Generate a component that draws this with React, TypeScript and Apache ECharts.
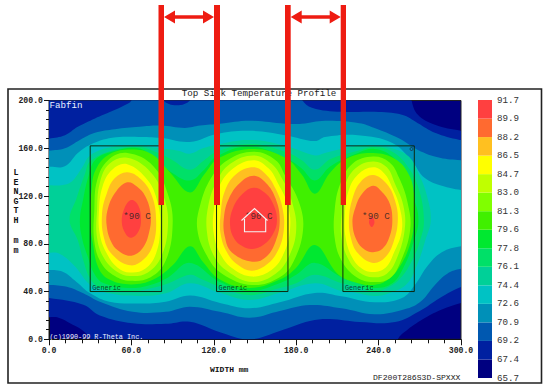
import React, { useEffect, useRef } from "react";
import * as echarts from "echarts";

type P = [number, number];

const titleText = "Top Sink Temperature Profile";
const scaleLabels = ["65.7","67.4","69.2","70.9","72.6","74.4","76.1","77.8","79.6","81.3","83.0","84.7","86.5","88.2","89.9","91.7"];
const bandColors = ["#000080","#0020a0","#0058b0","#0090b8","#00c2c4","#00d098","#00e068","#00e830","#40f000","#80ff00","#c0ff00","#ffff00","#ffc020","#ff6a30","#ff4040"];

const sourceLefts = [30, 122, 214];
const sourceWidth = 52;
const sourceBottom = 40;
const sourceTop = 162;
const sourceLabelX = [54, 142.7, 228];
const sourceLabelY = 102.5;

const level2: P[] = [[-10,18],[0,18.5],[7,18],[16,13],[25,7],[30,0],[33,-10],[253,-10],[254,0],[261,8],[274,18],[286,25],[300,30.5],[312,33],[312,173],[300,174.6],[281,179.6],[268.6,188],[264,200],[263,212],[-10,212]];
const level3: P[] = [[-10,35],[0,34.6],[25,29],[37,20],[61,13.5],[85,13],[102.6,14.7],[124.5,6],[146,0],[168,7],[190,15.3],[204.6,17],[226,14.5],[252,14.5],[270,23.7],[284.6,34.6],[300,43.8],[312,47],[312,165],[299,167],[281,173],[268.6,181],[257,188],[237,190.5],[213,190.5],[191.5,194],[184,201],[182,212],[104,212],[103,200.5],[93,196],[83,200.5],[82,212],[62,212],[60,200],[55,196],[45.6,191],[33.5,185],[21,178],[11.6,171],[0,168],[-10,165]];
const level4: P[] = [[-10,46],[0,45.5],[13,44],[25,38.5],[37,31.5],[61,23],[85,23],[102.6,27.3],[124.5,23],[146,18],[168,23.7],[190,28.7],[213,26],[237,21],[257,24.5],[270,31],[281,45.5],[290,55],[300,59],[312,60],[312,149],[300,150],[284.6,152],[268.6,158.6],[254,168.7],[237,177],[226,181],[201,183],[184,180.5],[172,180.5],[146,183],[124.5,180.5],[110,179],[99,177],[81,179],[66,178],[48,176],[33.5,173],[22.5,167],[11.6,160],[0,158],[-10,157]];
const level5: P[] = [[-10,58],[0,58],[10,56.5],[20,48],[30,38.5],[44,31.5],[66,30],[85,31.5],[103,36.6],[124.5,30.4],[146,26],[168,31],[193.6,38.8],[213,36],[237,31],[257,34.6],[266.4,45.5],[276,62],[286,73],[300,78],[312,79],[312,124],[300,125],[286,128.5],[273.7,135],[264,149.4],[250,164.5],[225,171],[201,169.5],[193.6,166],[172,171],[146,174.6],[122,172],[102.6,165.3],[81,168.7],[65,169.5],[46,168.7],[30,163],[21,156],[11.6,145],[0,144.4],[-10,144]];
const level6: P[] = [[-10,72.6],[0,72.6],[8,71.5],[19,60.9],[30,45.5],[44,38.5],[66,36.3],[85,38.5],[102.6,47],[124.5,39],[146,33],[168,39],[193.6,47],[213,40.5],[220.6,39.6],[237,36.3],[250,39.6],[261,47],[268.6,64],[274,83],[278,100],[275,121],[269,139],[262,153],[249.6,160],[237,162],[225,162],[201,156],[193.6,154],[172,162],[146,167],[122,163],[112,160],[102.6,155.5],[94,158],[79.6,160],[65,162],[45.6,161],[30,154],[23.7,143],[16.4,132],[9,129],[0,129],[-10,129]];
const level7: P[] = [[15,100],[20,118],[26,138],[30,149],[45.6,158],[65,161],[79.6,156],[90,150],[102.6,142],[113,150],[122,157],[146,163.6],[172,157],[184,150],[193.6,142],[205,151],[225,158],[237,161],[250,157],[261,145],[269,127],[273,100],[270,82],[263,63],[255,50],[246,43],[237,39.6],[225,44],[213,47],[193.6,54],[180,47],[168,43],[146,37],[124.5,44],[110,51],[102.6,54],[87,47],[75,43],[60,40.5],[38,43],[30,51],[25,66],[21,83]];
const level8: P[] = [[22.5,100],[25,118],[28.6,136],[33.5,150],[45.6,157],[65,160],[77,151.6],[89,140],[102.6,133],[113,142],[122,153],[146,161.4],[172,152],[184,143],[193.6,133],[205,145],[225,156],[237,159.4],[250,153],[258,140],[265,120],[269,100],[265,80],[258,60],[250,47],[237,43],[225,47],[213,52],[193.6,64],[180,54],[168,47],[146,40.5],[124.5,48],[102.6,64],[87,52],[75,46],[60,43],[40,47],[33,55],[28,70],[24,85]];
const level9: P[] = [[30,100],[31,125],[34,142],[44,155],[60,159],[75,155],[88,140],[102.6,123],[113,138],[124,152],[149,159.4],[172,152],[184,138],[193.6,122],[205,140],[218,152],[236,156],[252,151],[262,138],[266,120],[266,100],[263,80],[256,62],[247,50],[236,45.5],[222,48],[210,55],[193.6,79],[180,60],[168,50],[146,43],[124.5,50],[112,65],[102.6,78],[90,62],[76,50],[60,46],[44,50],[36,60],[32,80]];
const level10a: P[] = [[57,156],[43,150],[35,133],[33,108],[33,82],[38,64],[48,53],[59,49],[74,52],[85,66],[90,95],[87,120],[76,145]];
const level10b: P[] = [[149,157],[130,150],[118,135],[110,112],[108,92],[115,70],[126,55],[148,45.5],[168,52],[178,65],[185,92],[182,115],[172,137],[165,150]];
const level10c: P[] = [[236,153],[221,147],[212,130],[208,108],[208,85],[213,66],[224,52],[236,48],[248,51],[256,65],[263,92],[261,115],[255,135],[248,148]];
const level11a: P[] = [[57,152],[44,147],[37,131],[35,108],[35,85],[40,68],[49,57],[59,53],[72,56],[82,70],[86.6,95],[84,118],[74,140]];
const level11b: P[] = [[149,154],[132,147],[122,132],[116,112],[115,90],[120,70],[130,57],[148,48],[165,55],[175,70],[180,92],[177,115],[170,134],[162,147]];
const level11c: P[] = [[236,149],[223,143],[215,127],[213,105],[213,85],[218,67],[226,56],[236,52],[246,55],[253,67],[259,92],[258,112],[252,130],[246,144]];
const level12a: P[] = [[57,146.6],[46,142],[39,128],[36.4,108],[37,88],[42,72],[50,60],[59,56],[70,59],[78,72],[81,95],[79,115],[72,133]];
const level12b: P[] = [[149,150],[134,143],[124,128],[120,108],[120,88],[125,71],[134,59],[148,52.5],[162,58],[171,72],[175.5,92],[174,112],[167,130],[160,143]];
const level12c: P[] = [[236,144],[225,138],[218,124],[215.5,105],[216,85],[221,68],[228,59],[236,56.4],[245,60],[251,72],[257,92],[255,112],[250,127],[244,139]];
const level13a: P[] = [[57,140],[48,135],[42,122],[38.6,105],[40,85],[46,71],[59,62],[69,67],[76,80],[78,100],[75,120],[67,134]];
const level13b: P[] = [[149,144],[136,138],[128,124],[125,105],[125,88],[130,72],[138,62],[148,57.5],[159,63],[167,75],[171,92],[170,110],[165,126],[158,138]];
const level13c: P[] = [[236,137.6],[227,132],[221,118],[218.4,100],[220,84],[225,72],[236,64],[245,69],[251,82],[254,100],[252,116],[246,130]];
const level14a: P[] = [[57,131.5],[49,124],[43,110],[42,95],[46,80],[52,73],[60,70],[68,76],[73,90],[74,105],[70,120],[64,128]];
const level14b: P[] = [[149,137],[139,131],[131,118],[127.4,102],[128,86],[133,73],[148,65],[158,69],[165,82],[168,100],[165,118],[158,131]];
const level14c: P[] = [[236,128.6],[228,122],[223,110],[221,97],[224,83],[230,75],[236,73],[243,76],[248,86],[250,100],[248,114],[242,124]];
const level15a: P[] = [[60,116.6],[55,110],[53,98],[56,88],[60,85],[65,90],[67,100],[65,112]];
const level15b: P[] = [[149,127],[141,122],[134,110],[131.8,96],[135,84],[141,78],[148,75.7],[156,79],[163,88],[166,100],[163,114],[157,123]];
const level15c: P[] = [[235,103],[233,98],[235,94],[237,98]];

const contours: { band: number; pts: P[] }[] = [
  { band: 1, pts: level2 }, { band: 2, pts: level3 }, { band: 3, pts: level4 }, { band: 4, pts: level5 },
  { band: 5, pts: level6 }, { band: 6, pts: level7 }, { band: 7, pts: level8 }, { band: 8, pts: level9 },
  { band: 9, pts: level10a }, { band: 9, pts: level10b }, { band: 9, pts: level10c },
  { band: 10, pts: level11a }, { band: 10, pts: level11b }, { band: 10, pts: level11c },
  { band: 11, pts: level12a }, { band: 11, pts: level12b }, { band: 11, pts: level12c },
  { band: 12, pts: level13a }, { band: 12, pts: level13b }, { band: 12, pts: level13c },
  { band: 13, pts: level14a }, { band: 13, pts: level14b }, { band: 13, pts: level14c },
  { band: 14, pts: level15a }, { band: 14, pts: level15b }, { band: 14, pts: level15c },
];

const MONO = '"Liberation Mono", monospace';
const RED = "#ee1c12";

const txt = (x: number, y: number, text: string, size: number, fill: string, extra: any = {}) => ({
  type: "text", x, y, z: 60, silent: true,
  style: { text, fill, font: `${extra.weight || "normal"} ${size}px ${MONO}`, textAlign: extra.align || "left", textVerticalAlign: "middle" },
});
const redLine = (x: number, w: number) => ({ type: "rect", z: 70, shape: { x, y: 5, width: w, height: 200 }, style: { fill: RED } });
const arrow = (a: number, b: number) => ({
  type: "polygon", z: 70,
  shape: { points: [[a,17],[a+11,10.5],[a+11,15.2],[b-11,15.2],[b-11,10.5],[b,17],[b-11,23.5],[b-11,18.8],[a+11,18.8],[a+11,23.5]] },
  style: { fill: RED },
});

export default function App() {
  const ref = useRef<HTMLDivElement>(null);
  useEffect(() => {
    const chart = echarts.init(ref.current!, null, { renderer: "svg" });
    chart.setOption({
      animation: false,
      backgroundColor: "#ffffff",
      title: { text: titleText, left: 254, top: 84, textAlign: "center", textStyle: { fontFamily: MONO, fontSize: 9.2, fontWeight: "normal", color: "#222" } },
      grid: [
        { left: 49, top: 100.5, width: 412, height: 238.8, show: true, backgroundColor: bandColors[0], borderColor: "#222", borderWidth: 1 },
        { left: 478, top: 100, width: 14, height: 278 },
      ],
      xAxis: [
        {
          gridIndex: 0, type: "value", min: 0, max: 300, interval: 60,
          axisLine: { show: true, lineStyle: { color: "#111" } },
          axisTick: { show: true, length: 6, lineStyle: { color: "#111" } },
          minorTick: { show: true, splitNumber: 5, length: 4, lineStyle: { color: "#111" } },
          splitLine: { show: false },
          axisLabel: { margin: 7, fontFamily: MONO, fontSize: 8.2, fontWeight: "bold", color: "#222", formatter: (v: number) => v.toFixed(1) },
        },
        { gridIndex: 1, type: "value", min: 0, max: 1, show: false },
      ],
      yAxis: [
        {
          gridIndex: 0, type: "value", min: 0, max: 200, interval: 40,
          axisLine: { show: true, lineStyle: { color: "#111" } },
          axisTick: { show: true, length: 5, lineStyle: { color: "#111" } },
          minorTick: { show: true, splitNumber: 5, length: 3, lineStyle: { color: "#111" } },
          splitLine: { show: false },
          axisLabel: { margin: 6, fontFamily: MONO, fontSize: 8.2, fontWeight: "bold", color: "#222", formatter: (v: number) => v.toFixed(1) },
        },
        {
          gridIndex: 1, type: "value", min: 0, max: 15, interval: 1, position: "right",
          axisLine: { show: false }, axisTick: { show: false }, splitLine: { show: false },
          axisLabel: { margin: 5, fontFamily: MONO, fontSize: 9.2, color: "#333", formatter: (v: number) => scaleLabels[v] },
        },
      ],
      series: [
        {
          type: "custom", xAxisIndex: 0, yAxisIndex: 0, clip: true, z: 2, silent: true,
          data: contours.map((_, i) => [i]),
          renderItem: (params: any, api: any) => {
            const c = contours[params.dataIndex];
            return {
              type: "polygon",
              shape: { points: c.pts.map((p) => api.coord(p)), smooth: 0.4 },
              style: { fill: bandColors[c.band] },
            };
          },
        },
        {
          type: "custom", xAxisIndex: 0, yAxisIndex: 0, clip: true, z: 3, silent: true,
          data: sourceLefts.map((x) => [x]),
          renderItem: (params: any, api: any) => {
            const x0 = sourceLefts[params.dataIndex];
            const a = api.coord([x0, sourceTop]);
            const b = api.coord([x0 + sourceWidth, sourceBottom]);
            return {
              type: "rect",
              shape: { x: a[0], y: a[1], width: b[0] - a[0], height: b[1] - a[1] },
              style: { fill: "none", stroke: "#0a2a10", lineWidth: 1 },
            };
          },
        },
        {
          type: "scatter", xAxisIndex: 0, yAxisIndex: 0, z: 4, symbolSize: 0, silent: true,
          data: sourceLabelX.map((x) => [x, sourceLabelY]),
          label: { show: true, position: "right", distance: 0, formatter: "*90 C", fontFamily: MONO, fontSize: 9.2, color: "#222" },
        },
        {
          type: "scatter", xAxisIndex: 0, yAxisIndex: 0, z: 4, symbolSize: 0, silent: true,
          data: sourceLefts.map((x) => [x + 1.5, 43.2]),
          label: { show: true, position: "right", distance: 0, formatter: "Generic", fontFamily: MONO, fontSize: 6.8, color: "#111" },
        },
        {
          type: "custom", xAxisIndex: 1, yAxisIndex: 1, z: 2, silent: true,
          data: bandColors.map((_, i) => [i]),
          renderItem: (params: any, api: any) => {
            const i = params.dataIndex;
            const a = api.coord([0, i + 1]);
            const b = api.coord([1, i]);
            return {
              type: "rect",
              shape: { x: a[0], y: a[1], width: b[0] - a[0], height: b[1] - a[1] },
              style: { fill: bandColors[i] },
            };
          },
        },
      ],
      graphic: [
        { type: "rect", z: 1, silent: true, shape: { x: 8, y: 89, width: 533.5, height: 294 }, style: { fill: "none", stroke: "#222", lineWidth: 1.6 } },
        txt(49.5, 105, "Fabfin", 9.2, "#e8f0ff"),
        txt(49.5, 336.8, "(c)1990-99 R-Theta Inc.", 6.8, "#f0f4ff"),
        txt(373, 377, "DF200T286S3D-SPXXX", 8.1, "#222"),
        txt(210, 369.5, "WIDTH mm", 8, "#111", { weight: "bold" }),
        txt(13.5, 173, "L", 8.4, "#111", { weight: "bold" }),
        txt(13.5, 182.6, "E", 8.4, "#111", { weight: "bold" }),
        txt(13.5, 192.2, "N", 8.4, "#111", { weight: "bold" }),
        txt(13.5, 201.8, "G", 8.4, "#111", { weight: "bold" }),
        txt(13.5, 211.4, "T", 8.4, "#111", { weight: "bold" }),
        txt(13.5, 221, "H", 8.4, "#111", { weight: "bold" }),
        txt(13.5, 241, "m", 8.4, "#111", { weight: "bold" }),
        txt(13.5, 250.7, "m", 8.4, "#111", { weight: "bold" }),
        { type: "circle", z: 55, silent: true, shape: { cx: 411.5, cy: 149, r: 1.5 }, style: { fill: "none", stroke: "#224", lineWidth: 0.8 } },
        { type: "polyline", z: 65, silent: true, shape: { points: [[241.5,220.5],[254.5,208.5],[267.5,220.5]] }, style: { fill: "none", stroke: "#f4f4f4", lineWidth: 1.1 } },
        { type: "polyline", z: 65, silent: true, shape: { points: [[244.5,219],[244.5,231.7],[265.7,231.7],[265.7,219]] }, style: { fill: "none", stroke: "#f4f4f4", lineWidth: 1.1 } },
        redLine(158.5, 5.5), redLine(214, 6), redLine(285, 5.7), redLine(340.7, 5.3),
        arrow(164, 214), arrow(290.7, 340.7),
      ],
    });
    return () => chart.dispose();
  }, []);
  return <div ref={ref} style={{ position: "absolute", left: 0, top: 0, width: 550, height: 390 }} />;
}
